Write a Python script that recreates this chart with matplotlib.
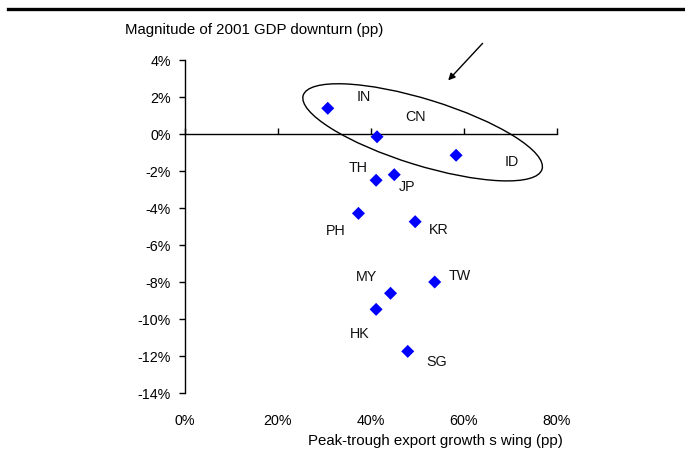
import matplotlib
matplotlib.use("Agg")
import matplotlib.pyplot as plt
from matplotlib.patches import Ellipse
from matplotlib.transforms import IdentityTransform
from matplotlib.ticker import FuncFormatter

plt.rcParams['font.family'] = ['Liberation Sans', 'DejaVu Sans']

# Data
countries = ["IN", "CN", "ID", "TH", "JP", "PH", "KR", "MY", "TW", "HK", "SG"]
export_swing = [30.7, 41.3, 58.3, 41.1, 45.0, 37.3, 49.5, 44.2, 53.7, 41.1, 47.9]
gdp_downturn = [1.39, -0.15, -1.15, -2.5, -2.2, -4.29, -4.74, -8.61, -8.0, -9.48, -11.75]
x_ticks = [0, 20, 40, 60, 80]
y_ticks = [4, 2, 0, -2, -4, -6, -8, -10, -12, -14]

# label offsets in points (layout)
label_offsets = {
    "IN": (26, 8), "CN": (28, 14), "ID": (40, -5), "TH": (-13, 9),
    "JP": (9, -9), "PH": (-16, -13), "KR": (17, -6), "MY": (-17, 11.5),
    "TW": (18, 4), "HK": (-12, -18), "SG": (21, -7.5),
}

W, H, DPI = 6.85, 4.66, 100
fig = plt.figure(figsize=(W, H), dpi=DPI)
ax = fig.add_axes([185/685, 1-393/466, (557-185)/685, (393-60)/466])

ax.set_xlim(0, 80)
ax.set_ylim(-14, 4)

ax.scatter(export_swing, gdp_downturn, marker='D', s=44, color='#0000FF',
           edgecolors='none', zorder=3)
for c, xv, yv in zip(countries, export_swing, gdp_downturn):
    dx, dy = label_offsets[c]
    ax.annotate(c, (xv, yv), xytext=(dx, dy), textcoords='offset points',
                ha='center', va='center', fontsize=10.3, color='#111111')

# spines
for s in ['top', 'right']:
    ax.spines[s].set_visible(False)
ax.spines['bottom'].set_position(('data', 0))
ax.spines['left'].set_linewidth(1.0)
ax.spines['bottom'].set_linewidth(1.0)

ax.set_yticks(y_ticks)
ax.yaxis.set_major_formatter(FuncFormatter(lambda v, p: f"{v:.0f}%"))
ax.tick_params(axis='y', direction='out', length=4, width=1, labelsize=10.3, pad=6)

ax.set_xticks(x_ticks)
ax.tick_params(axis='x', direction='in', length=4, width=1, labelbottom=False)

secax = ax.secondary_xaxis(-0.0)
secax.set_xticks(x_ticks)
secax.xaxis.set_major_formatter(FuncFormatter(lambda v, p: f"{v:.0f}%"))
secax.spines['bottom'].set_visible(False)
secax.tick_params(axis='x', length=0, labelsize=10.3, pad=15)

fig.text(125/685, 1-30/466, "Magnitude of 2001 GDP downturn (pp)", fontsize=10.8,
         ha='left', va='center')
fig.text(435.5/685, 1-441/466, "Peak-trough export growth s wing (pp)", fontsize=10.8,
         ha='center', va='center')

# top rule
fig.add_artist(plt.Line2D([8/685, 1.0], [1-8.5/466, 1-8.5/466], color='black',
                          linewidth=2.4, transform=fig.transFigure))

# ellipse around IN, CN, ID (drawn in pixel space)
fig.canvas.draw()
cx, cy = ax.transData.transform((51.1, 0.09))
ell = Ellipse((cx, cy), width=250, height=66, angle=-17.2, fill=False,
              edgecolor='black', linewidth=1.0, transform=IdentityTransform(),
              zorder=4)
fig.add_artist(ell)

# arrow
ax.annotate("", xy=(56.6, 2.9), xytext=(64.0, 4.9),
            arrowprops=dict(arrowstyle='-|>', color='black', lw=1.0,
                            mutation_scale=10, shrinkA=0, shrinkB=0),
            annotation_clip=False)

fig.savefig("out.png", dpi=DPI)
